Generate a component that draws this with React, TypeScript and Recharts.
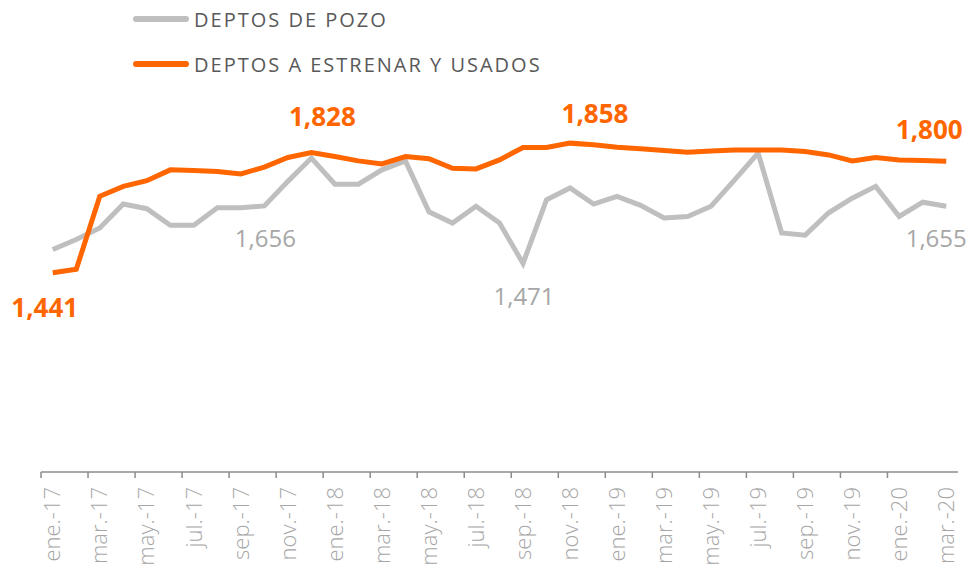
import { LabelList, Line, LineChart, XAxis, YAxis } from "recharts";

// monthly series, ene.-17 .. mar.-20
const MONTHS = [
  "ene.-17", "feb.-17", "mar.-17", "abr.-17", "may.-17", "jun.-17", "jul.-17", "ago.-17", "sep.-17", "oct.-17", "nov.-17", "dic.-17",
  "ene.-18", "feb.-18", "mar.-18", "abr.-18", "may.-18", "jun.-18", "jul.-18", "ago.-18", "sep.-18", "oct.-18", "nov.-18", "dic.-18",
  "ene.-19", "feb.-19", "mar.-19", "abr.-19", "may.-19", "jun.-19", "jul.-19", "ago.-19", "sep.-19", "oct.-19", "nov.-19", "dic.-19",
  "ene.-20", "feb.-20", "mar.-20",
];

const POZO = [
  1516, 1548, 1585, 1662, 1647, 1594, 1594, 1650, 1650, 1656, 1735, 1810,
  1726, 1726, 1772, 1801, 1637, 1601, 1655, 1601, 1471, 1676, 1714, 1662,
  1687, 1658, 1617, 1622, 1655, 1740, 1826, 1569, 1562, 1634, 1681, 1719,
  1622, 1668, 1655,
];

const ESTRENAR = [
  1441, 1452, 1687, 1719, 1737, 1772, 1770, 1767, 1759, 1781, 1812, 1828,
  1815, 1801, 1791, 1815, 1808, 1777, 1775, 1804, 1844, 1844, 1858, 1853,
  1845, 1840, 1834, 1829, 1833, 1836, 1836, 1836, 1831, 1820, 1801, 1812,
  1804, 1802, 1800,
];

// tick marks sit between categories, labels on every second month
const TICK_MARKS = MONTHS.slice(0, 38).filter((_, i) => i % 2 === 0).map((_, k) => k * 2 - 0.5);
const LABEL_TICKS = MONTHS.map((_, i) => i).filter((i) => i % 2 === 0);

// which points get a value label, and where it goes relative to the point
const POZO_LABELS: Record<number, [number, number]> = { 9: [1, 41], 20: [1, 42], 38: [-10, 41] };
const ESTRENAR_LABELS: Record<number, [number, number]> = { 0: [-8, 44], 11: [11, -26], 22: [25, -20], 38: [-17, -22] };

const ORANGE = "#ff6600";
const GREY = "#bfbfbf";
const FONT = "'Open Sans', 'DejaVu Sans', sans-serif";

const data = MONTHS.map((m, i) => ({ i, month: m, pozo: POZO[i], estrenar: ESTRENAR[i] }));

const fmt = (v: number) => v.toLocaleString("en-US");

function MonthTick({ x, y, payload }: any) {
  return (
    <text
      x={x}
      y={y + 7}
      dy="0.35em"
      transform={`rotate(-90, ${x}, ${y + 7})`}
      textAnchor="end"
      fill="#a6a6a6"
      fontSize={22}
      fontWeight={300}
      fontFamily={FONT}
    >
      {MONTHS[payload.value]}
    </text>
  );
}

function makeLabel(spec: Record<number, [number, number]>, color: string, size: number, weight: number) {
  return (props: any) => {
    const { x, y, value, index } = props;
    const off = spec[index];
    if (!off) return null;
    return (
      <text
        x={x + off[0]}
        y={y + off[1]}
        textAnchor="middle"
        fill={color}
        fontSize={size}
        fontWeight={weight}
        fontFamily={FONT}
      >
        {fmt(value)}
      </text>
    );
  };
}

function LegendRow({ color, text, top }: { color: string; text: string; top: number }) {
  return (
    <div style={{ position: "absolute", left: 133, top: top - 14, height: 28, display: "flex", alignItems: "center" }}>
      <div style={{ width: 56, height: 6, borderRadius: 3, background: color, marginRight: 5 }} />
      <span style={{ fontFamily: FONT, fontSize: 20, color: "#595959", letterSpacing: 2, whiteSpace: "nowrap" }}>
        {text}
      </span>
    </div>
  );
}

export default function App() {
  return (
    <div style={{ position: "absolute", left: 0, top: 0, width: 970, height: 578, background: "#fff" }}>
      <LineChart width={970} height={578} data={data} margin={{ top: 99, right: 12, left: 41, bottom: 0 }}>
        <YAxis hide domain={[800, 2000]} allowDataOverflow />
        <XAxis
          xAxisId="b"
          type="number"
          dataKey="i"
          domain={[-0.5, 38.5]}
          allowDataOverflow
          ticks={LABEL_TICKS}
          interval={0}
          height={98}
          tickSize={0}
          tickMargin={0}
          axisLine={false}
          tickLine={false}
          tick={<MonthTick />}
        />
        <XAxis
          xAxisId="a"
          type="number"
          dataKey="i"
          domain={[-0.5, 38.5]}
          allowDataOverflow
          ticks={TICK_MARKS}
          interval={0}
          height={8}
          tickSize={6}
          axisLine={{ stroke: "#8c8c8c", strokeWidth: 1.5 }}
          tickLine={{ stroke: "#8c8c8c", strokeWidth: 1.5 }}
          tick={() => <g />}
        />
        <Line
          xAxisId="a"
          dataKey="pozo"
          name="DEPTOS DE POZO"
          stroke={GREY}
          strokeWidth={5}
          dot={false}
          activeDot={false}
          isAnimationActive={false}
        >
          <LabelList dataKey="pozo" content={makeLabel(POZO_LABELS, "#a6a6a6", 24, 500)} />
        </Line>
        <Line
          xAxisId="b"
          dataKey="estrenar"
          name="DEPTOS A ESTRENAR Y USADOS"
          stroke={ORANGE}
          strokeWidth={5}
          dot={false}
          activeDot={false}
          isAnimationActive={false}
        >
          <LabelList dataKey="estrenar" content={makeLabel(ESTRENAR_LABELS, ORANGE, 26, 700)} />
        </Line>
      </LineChart>
      <LegendRow color={GREY} text="DEPTOS DE POZO" top={19} />
      <LegendRow color={ORANGE} text="DEPTOS A ESTRENAR Y USADOS" top={64} />
    </div>
  );
}
